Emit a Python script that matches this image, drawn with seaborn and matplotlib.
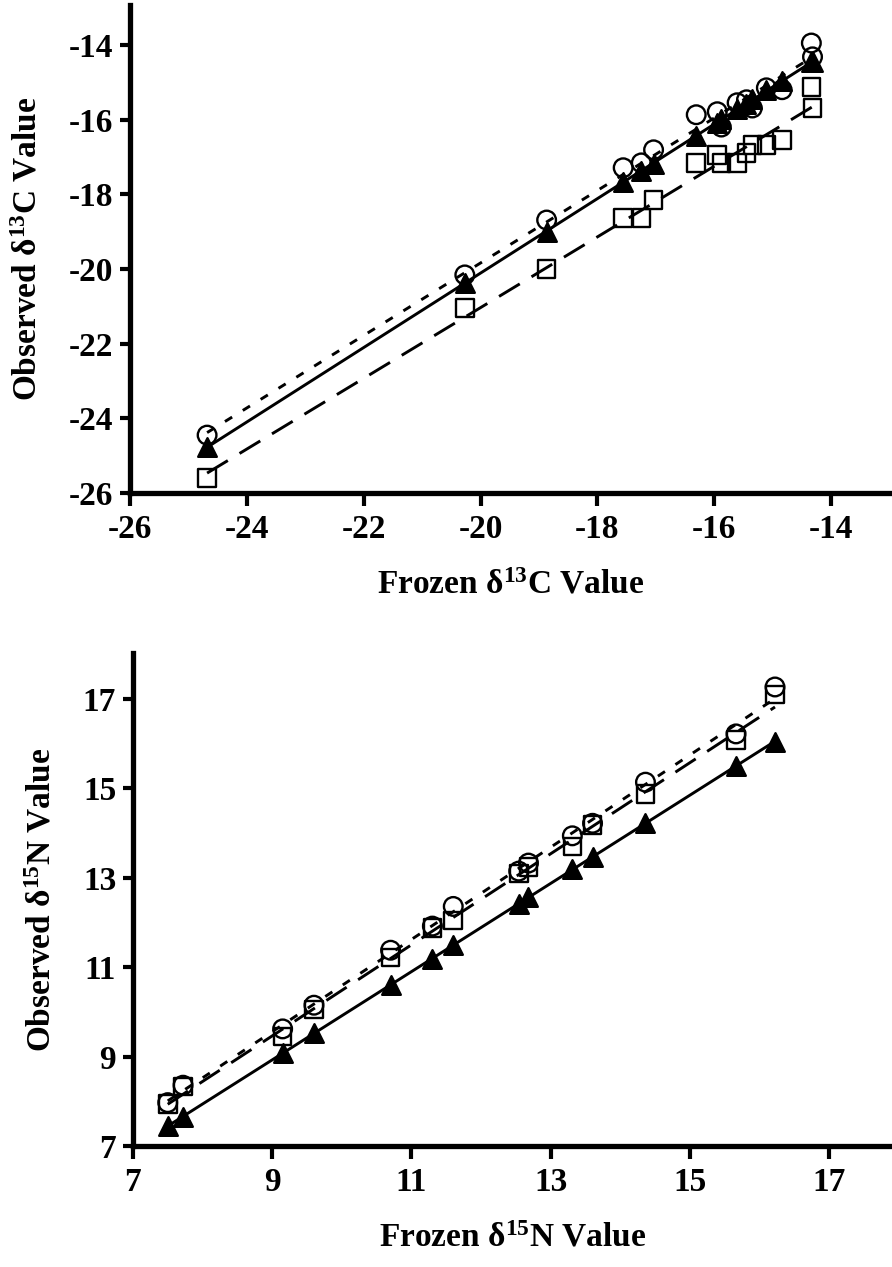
import matplotlib
matplotlib.use("Agg")
import matplotlib.pyplot as plt
import pandas as pd
import seaborn as sns

# top panel: carbon
c_frozen = [-24.68, -20.27, -18.87, -17.56, -17.25, -17.04, -16.31, -15.95,
            -15.88, -15.61, -15.45, -15.35, -15.11, -14.84, -14.34, -14.32]
c_circle = [-24.45, -20.16, -18.69, -17.29, -17.16, -16.81, -15.87, -15.79,
            -16.2, -15.55, -15.47, -15.69, -15.15, -15.2, -13.95, -14.32]
c_triangle = [-24.77, -20.37, -19.0, -17.67, -17.38, -17.18, -16.45, -16.08,
              -15.98, -15.72, -15.58, -15.46, -15.22, -14.96, -14.47, -14.45]
c_square = [-25.6, -21.04, -20.0, -18.63, -18.63, -18.15, -17.16, -16.95,
            -17.16, -17.16, -16.9, -16.68, -16.68, -16.54, -15.13, -15.69]
c_ticks = [-26, -24, -22, -20, -18, -16, -14]

# bottom panel: nitrogen
n_frozen = [7.5, 7.72, 9.15, 9.6, 10.7, 11.3, 11.6, 12.54, 12.68, 13.31,
            13.6, 14.36, 15.66, 16.22]
n_circle = [7.97, 8.36, 9.62, 10.15, 11.38, 11.92, 12.36, 13.15, 13.33,
            13.94, 14.22, 15.14, 16.22, 17.27]
n_triangle = [7.45, 7.65, 9.08, 9.52, 10.6, 11.18, 11.5, 12.42, 12.58, 13.2,
              13.47, 14.22, 15.5, 16.04]
n_square = [7.94, 8.33, 9.45, 10.05, 11.22, 11.88, 12.05, 13.1, 13.24, 13.7,
            14.18, 14.87, 16.08, 17.1]
n_ticks = [7, 9, 11, 13, 15, 17]

sns.set_theme(style="ticks")
plt.rcParams["font.family"] = ["Liberation Serif", "DejaVu Serif"]
plt.rcParams["font.weight"] = "bold"
plt.rcParams["text.color"] = "black"
plt.rcParams["axes.labelcolor"] = "black"
plt.rcParams["mathtext.fontset"] = "custom"
plt.rcParams["mathtext.rm"] = "Liberation Serif:bold"
plt.rcParams["mathtext.bf"] = "Liberation Serif:bold"
plt.rcParams["mathtext.it"] = "Liberation Serif:bold"

styles = {
    "square": dict(marker="s", ls=(0, (8.3, 4.7)), s=160),
    "circle": dict(marker="o", ls=(0, (2.9, 4.3)), s=180),
    "triangle": dict(marker="^", ls="-", s=180),
}


def panel(ax, frozen, series, ticks, lims, elem):
    for name, obs in series.items():
        st = styles[name]
        df = pd.DataFrame({"frozen": frozen, "observed": obs})
        face = "black" if name == "triangle" else "none"
        sns.regplot(
            data=df, x="frozen", y="observed", ax=ax, ci=None, marker=st["marker"],
            scatter_kws=dict(color=face, edgecolors="black", s=st["s"],
                             linewidths=1.7, alpha=1, zorder=3),
            line_kws=dict(color="black", lw=2.1, linestyle=st["ls"], zorder=2),
        )
    ax.set_xlim(lims[0])
    ax.set_ylim(lims[1])
    ax.set_xticks(ticks)
    ax.set_yticks(ticks)
    ax.set_xticklabels([str(t) for t in ticks])
    ax.set_yticklabels([str(t) for t in ticks])
    sns.despine(ax=ax)
    for sp in ["left", "bottom"]:
        ax.spines[sp].set_linewidth(3.8)
        ax.spines[sp].set_color("black")
    ax.tick_params(axis="both", colors="black", labelcolor="black", width=3,
                   labelsize=24)
    ax.tick_params(axis="x", length=9, pad=6)
    ax.tick_params(axis="y", length=7, pad=5)
    ax.set_xlabel(f"Frozen δ$^{{{elem[0]}}}${elem[1]} Value", fontsize=24,
                  fontweight="bold", labelpad=18, color="black")
    ax.set_ylabel(f"Observed δ$^{{{elem[0]}}}${elem[1]} Value", fontsize=24,
                  fontweight="bold", labelpad=18, color="black")
    ax.grid(False)


fig = plt.figure(figsize=(8.92, 12.67), dpi=100)
ax1 = fig.add_axes([0.1457, 0.6109, 0.8543, 0.3852])
ax2 = fig.add_axes([0.149, 0.0955, 0.851, 0.3891])

panel(ax1, c_frozen,
      {"square": c_square, "circle": c_circle, "triangle": c_triangle},
      c_ticks, ((-26, -12.96), (-26, -12.93)), ("13", "C"))
panel(ax2, n_frozen,
      {"square": n_square, "circle": n_circle, "triangle": n_triangle},
      n_ticks, ((7, 17.9), (7, 18.03)), ("15", "N"))

fig.savefig("out.png", dpi=100)
